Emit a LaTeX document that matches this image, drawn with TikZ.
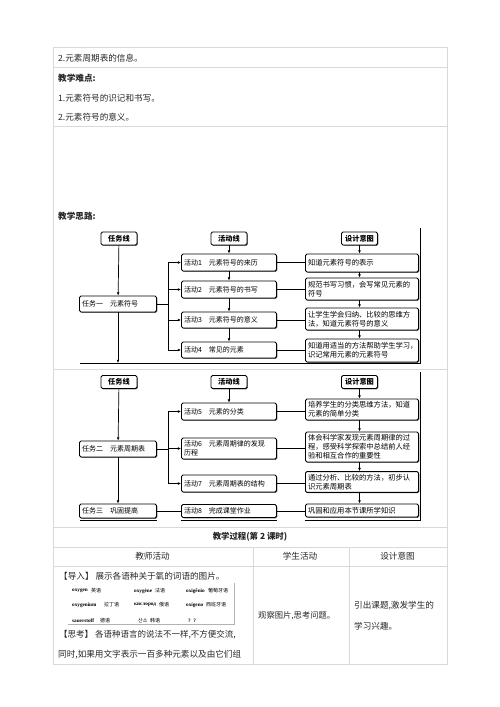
\documentclass[tikz,border=0pt]{standalone}
\usepackage{fontspec}
\setmainfont{Noto Sans CJK SC}
\newfontfamily\latinfont{Liberation Serif}
\usetikzlibrary{arrows.meta,shadows}

\begin{document}
\begin{tikzpicture}[
  x=1pt, y=-1pt,
  font=\fontsize{8.6}{10}\selectfont,
  rowline/.style={draw=black!15, line width=0.8pt},
  tbltext/.style={anchor=west, inner sep=0pt, text=black!85},
  line/.style={line width=0.7pt},
  arr/.style={line width=0.7pt, -{Latex[length=3.2pt,width=2.8pt]}},
  bar/.style={line width=1.8pt},
  boxbase/.style={draw, line width=0.9pt, rounded corners=1.5pt, fill=white, align=left, inner sep=2.5pt,
    drop shadow={shadow xshift=0.8pt, shadow yshift=-0.8pt, fill=black, opacity=0.6}},
  headbox/.style={boxbase, align=center, minimum width=36pt, minimum height=13pt, inner sep=1pt,
    font=\fontsize{7.2}{8}\selectfont\bfseries},
  taskbox/.style={boxbase, text width=72pt, minimum height=16pt, font=\fontsize{7}{8.5}\selectfont},
  actbox/.style={boxbase, text width=90pt, font=\fontsize{7}{8.5}\selectfont},
  ideabox/.style={boxbase, text width=108pt, font=\fontsize{7.3}{9}\selectfont},
  oxword/.style={anchor=west, inner sep=0pt, font=\fontsize{5.2}{6}\latinfont\bfseries},
  oxlang/.style={anchor=west, inner sep=0pt, font=\fontsize{5}{6}\selectfont}
]
\useasboundingbox (0,0) rectangle (500,707);

% table frame
\draw[rowline] (53,47) rectangle (447,664);
\foreach \yy in {67,126,369,527,547,566}
  \draw[rowline] (53,\yy) -- (447,\yy);
\draw[rowline] (253,547) -- (253,664);
\draw[rowline] (349,547) -- (349,664);

% top rows
\node[tbltext] (info) at (58,58) {2.元素周期表的信息。};
\node[tbltext, font=\fontsize{8.6}{10}\selectfont\bfseries] (hard) at (58,78) {教学难点:};
\node[tbltext] (hard1) at (58,98) {1.元素符号的识记和书写。};
\node[tbltext] (hard2) at (58,117) {2.元素符号的意义。};
\node[tbltext, font=\fontsize{8.6}{10}\selectfont\bfseries] (route) at (58,216) {教学思路:};

% first chart
\node[headbox] (taskA) at (119,238.5) {任务线};
\node[headbox] (actA) at (229,238.5) {活动线};
\node[headbox] (ideaA) at (359.5,238.5) {设计意图};

\node[taskbox] (t1) at (118,304) {任务一\quad 元素符号};

\node[actbox, minimum height=17pt] (a1) at (229,262.5) {活动1\quad 元素符号的来历};
\node[actbox, minimum height=17pt] (a2) at (229,289.5) {活动2\quad 元素符号的书写};
\node[actbox, minimum height=16pt] (a3) at (229,320) {活动3\quad 元素符号的意义};
\node[actbox, minimum height=16pt] (a4) at (229,350) {活动4\quad 常见的元素};

\node[ideabox, minimum height=18pt] (d1) at (362,263) {知道元素符号的表示};
\node[ideabox, minimum height=22pt] (d2) at (362,289) {规范书写习惯，会写常见元素的\\符号};
\node[ideabox, minimum height=22pt] (d3) at (362,319) {让学生学会归纳、比较的思维方\\法，知道元素符号的意义};
\node[ideabox, minimum height=23pt] (d4) at (362,350.5) {知道用适当的方法帮助学生学习，\\识记常用元素的元素符号};

\coordinate (baseA) at (80,363);
\coordinate (edgeA) at (420,228);
\coordinate (forkA) at (168,304);
\draw[line] (baseA) -- (baseA -| edgeA) -- (edgeA);
\draw[arr] (taskA) -- (t1);
\draw[arr] (t1.south) -- (t1.south |- baseA);
\draw[line] (t1.east) -- (forkA);
\draw[line] (forkA |- a1.west) -- (forkA |- a4.west);
\foreach \a in {a1,a2,a3,a4}
  \draw[arr] (forkA |- \a.west) -- (\a.west);
\draw[arr] (actA) -- (a1);
\draw[arr] (a1) -- (a2);
\draw[arr] (a2) -- (a3);
\draw[arr] (a3) -- (a4);
\draw[arr] (ideaA.south) -- (ideaA.south |- d1.north);
\draw[arr] (d1.south -| ideaA) -- (d2.north -| ideaA);
\draw[arr] (d2.south -| ideaA) -- (d3.north -| ideaA);
\draw[arr] (d3.south -| ideaA) -- (d4.north -| ideaA);
\foreach \a/\d in {a1/d1,a2/d2,a3/d3,a4/d4}
  \draw[line] (\a.east) -- (\a.east -| \d.west);

% second chart
\node[headbox] (taskB) at (119,382) {任务线};
\node[headbox] (actB) at (229,382) {活动线};
\node[headbox] (ideaB) at (359.5,382) {设计意图};

\node[taskbox] (t2) at (118,449) {任务二\quad 元素周期表};
\node[taskbox, minimum height=14pt] (t3) at (118,511) {任务三\quad 巩固提高};

\node[actbox, minimum height=17pt] (a5) at (229,411.5) {活动5\quad 元素的分类};
\node[actbox, minimum height=21pt] (a6) at (229,448.5) {活动6\quad 元素周期律的发现\\历程};
\node[actbox, minimum height=17pt] (a7) at (229,483.5) {活动7\quad 元素周期表的结构};
\node[actbox, minimum height=13pt, inner ysep=1.5pt] (a8) at (229,511) {活动8\quad 完成课堂作业};

\node[ideabox, minimum height=21pt] (d5) at (362,409.5) {培养学生的分类思维方法，知道\\元素的简单分类};
\node[ideabox, minimum height=30pt] (d6) at (362,447) {体会科学家发现元素周期律的过\\程，感受科学探索中总结前人经\\验和相互合作的重要性};
\node[ideabox, minimum height=20pt] (d7) at (362,482) {通过分析、比较的方法，初步认\\识元素周期表};
\node[ideabox, minimum height=13pt, inner ysep=1.5pt] (d8) at (362,510.5) {巩固和应用本节课所学知识};

\coordinate (edgeB) at (420,372);
\coordinate (forkB) at (168,449);
\draw[line] (edgeB) -- (420,521);
\draw[bar] (80,520.5) -- (t3.south east |- 0,520.5);
\draw[bar] (a8.south west |- 0,520.5) -- (a8.south east |- 0,520.5);
\draw[bar] (d8.south west |- 0,520.5) -- (420,520.5);
\draw[arr] (taskB) -- (t2);
\draw[arr] (t2) -- (t3);
\draw[line] (t2.east) -- (forkB);
\draw[line] (forkB |- a5.west) -- (forkB |- a7.west);
\foreach \a in {a5,a6,a7}
  \draw[arr] (forkB |- \a.west) -- (\a.west);
\draw[arr] (actB) -- (a5);
\draw[line] (t3.east) -- (t3.east -| a8.west);
\draw[arr] (ideaB.south) -- (ideaB.south |- d5.north);
\draw[arr] (d5.south -| ideaB) -- (d6.north -| ideaB);
\draw[arr] (d6.south -| ideaB) -- (d7.north -| ideaB);
\draw[arr] (d7.south -| ideaB) -- (d8.north -| ideaB);
\foreach \a/\d in {a5/d5,a6/d6,a7/d7,a8/d8}
  \draw[line] (\a.east) -- (\a.east -| \d.west);

% lesson process
\node[tbltext, anchor=center, font=\fontsize{8.4}{10}\selectfont\bfseries] (proc) at (250,537) {教学过程(第 2 课时)};
\node[tbltext, anchor=center] (colT) at (152.5,556.5) {教师活动};
\node[tbltext, anchor=center] (colS) at (300,556.5) {学生活动};
\node[tbltext, anchor=center] (colI) at (397.5,556.5) {设计意图};

\node[tbltext] (intro) at (59,576) {【导入】 展示各语种关于氧的词语的图片。};
\draw[black!30, line width=0.6pt] (68,624) -- (234,624) -- (234,583);
\node[oxword] (w1) at (72,591) {oxygen};
\node[oxlang] (l1) at (91,591) {英语};
\node[oxword] (w2) at (134,591) {oxygène};
\node[oxlang] (l2) at (155,591) {法语};
\node[oxword] (w3) at (186,591) {oxigênio};
\node[oxlang] (l3) at (208,591) {葡萄牙语};
\node[oxword] (w4) at (72,605) {oxygenium};
\node[oxlang] (l4) at (104,605) {拉丁语};
\node[oxword] (w5) at (134,605) {кислород};
\node[oxlang] (l5) at (159,605) {俄语};
\node[oxword] (w6) at (186,605) {oxígeno};
\node[oxlang] (l6) at (206,605) {西班牙语};
\node[oxword] (w7) at (72,621) {sauerstoff};
\node[oxlang] (l7) at (100,621) {德语};
\node[oxlang] (w8) at (138,621) {산소};
\node[oxlang] (l8) at (150,621) {韩语};
\node[oxword] (w9) at (188,621) {?\ \ ?};

\node[tbltext, font=\fontsize{8.5}{10}\selectfont] (think) at (59,635) {【思考】 各语种语言的说法不一样,不方便交流,};
\node[tbltext, font=\fontsize{8.6}{10}\selectfont] (think2) at (58,655) {同时,如果用文字表示一百多种元素以及由它们组};
\node[tbltext, font=\fontsize{8.3}{10}\selectfont] (observe) at (258,616) {观察图片,思考问题。};
\node[tbltext, font=\fontsize{8.6}{10}\selectfont] (aim1) at (354,606) {引出课题,激发学生的};
\node[tbltext, font=\fontsize{8.6}{10}\selectfont] (aim2) at (354,626) {学习兴趣。};
\end{tikzpicture}
\end{document}
